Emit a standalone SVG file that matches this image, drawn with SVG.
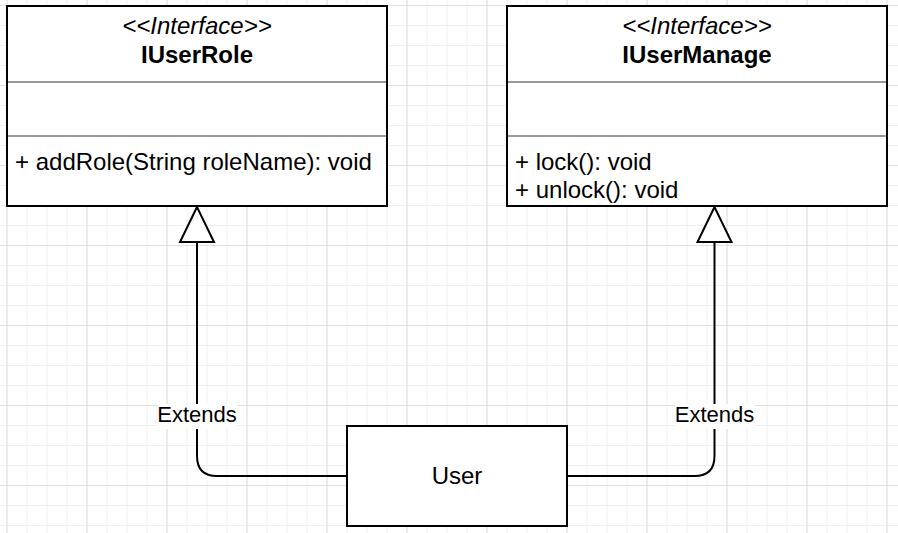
<svg xmlns="http://www.w3.org/2000/svg" width="898" height="533" viewBox="0 0 898 533">
  <defs>
    <pattern id="minor" x="6.5" y="5" width="20" height="20" patternUnits="userSpaceOnUse">
      <path d="M0 0 V20 M0 0 H20" fill="none" stroke="#f0f0f0" stroke-width="2"/>
    </pattern>
    <pattern id="major" x="6.5" y="5" width="80" height="80" patternUnits="userSpaceOnUse">
      <path d="M0 0 V80 M0 0 H80" fill="none" stroke="#d0d0d0" stroke-width="1.2"/>
    </pattern>
  </defs>
  <style>
    .box { fill: #ffffff; stroke: #000000; stroke-width: 2; }
    .sep { stroke: #999999; stroke-width: 2; }
    .t { font-family: "Liberation Sans", Arial, sans-serif; font-size: 24px; fill: #000000; }
    .c { text-anchor: middle; }
    .st { font-style: italic; }
    .b { font-weight: bold; }
    .edge { fill: none; stroke: #000000; stroke-width: 2; }
    .head { fill: #ffffff; stroke: #000000; stroke-width: 2; stroke-linejoin: miter; }
    .lbl { font-family: "Liberation Sans", Arial, sans-serif; font-size: 22px; fill: #000000; text-anchor: middle; }
    .lblbg { fill: #ffffff; }
  </style>
  <rect width="898" height="533" fill="#ffffff"/>
  <rect width="898" height="533" fill="url(#minor)"/>
  <rect width="898" height="533" fill="url(#major)"/>

  <g id="IUserRole">
    <rect class="box" x="7" y="6" width="380" height="200"/>
    <line class="sep" x1="8" y1="82" x2="386" y2="82"/>
    <line class="sep" x1="8" y1="136" x2="386" y2="136"/>
    <text class="t c st" x="197" y="34">&lt;&lt;Interface&gt;&gt;</text>
    <text class="t c b" x="197" y="63">IUserRole</text>
    <text class="t" x="15" y="170">+ addRole(String roleName): void</text>
  </g>

  <g id="IUserManage">
    <rect class="box" x="507" y="6" width="380" height="200"/>
    <line class="sep" x1="508" y1="82" x2="886" y2="82"/>
    <line class="sep" x1="508" y1="136" x2="886" y2="136"/>
    <text class="t c st" x="697" y="34">&lt;&lt;Interface&gt;&gt;</text>
    <text class="t c b" x="697" y="63">IUserManage</text>
    <text class="t" x="515" y="170">+ lock(): void</text>
    <text class="t" x="515" y="198">+ unlock(): void</text>
  </g>

  <g id="User">
    <rect class="box" x="347" y="426" width="220" height="100"/>
    <text class="t c" x="457" y="484">User</text>
  </g>

  <g id="connectors">
    <path class="edge" d="M347 476 H217 Q197 476 197 456 V242"/>
    <polygon class="head" points="197,207 180,242 214,242"/>
    <rect class="lblbg" x="157" y="404" width="80" height="25"/>
    <text class="lbl" x="197" y="422">Extends</text>

    <path class="edge" d="M567 476 H694.5 Q714.5 476 714.5 456 V242"/>
    <polygon class="head" points="714.5,207 697.5,242 731.5,242"/>
    <rect class="lblbg" x="675" y="404" width="80" height="25"/>
    <text class="lbl" x="714.5" y="422">Extends</text>
  </g>
</svg>
